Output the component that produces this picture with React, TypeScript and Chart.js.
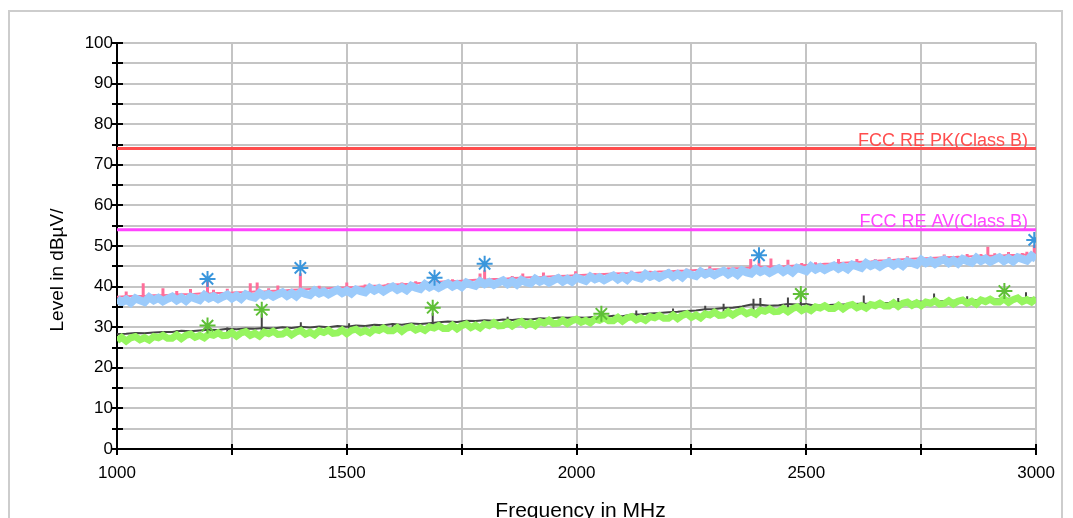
import React, { useEffect, useRef } from "react";
import { Chart, registerables } from "chart.js";

Chart.register(...registerables);

const FONT = "'Liberation Sans', Arial, Helvetica, sans-serif";

const X_TITLE = "Frequency in MHz";
const Y_TITLE = "Level in dBµV/";
const PK_LIMIT_LABEL = "FCC RE PK(Class B)";
const AV_LIMIT_LABEL = "FCC RE AV(Class B)";
const PK_LIMIT = 74;
const AV_LIMIT = 54;
const LIMIT_FREQ = [1000, 3000];

// frequencies of the two wide bands (10 MHz steps)
const BAND_FREQ = [
  1000, 1010, 1020, 1030, 1040, 1050, 1060, 1070, 1080, 1090,
  1100, 1110, 1120, 1130, 1140, 1150, 1160, 1170, 1180, 1190,
  1200, 1210, 1220, 1230, 1240, 1250, 1260, 1270, 1280, 1290,
  1300, 1310, 1320, 1330, 1340, 1350, 1360, 1370, 1380, 1390,
  1400, 1410, 1420, 1430, 1440, 1450, 1460, 1470, 1480, 1490,
  1500, 1510, 1520, 1530, 1540, 1550, 1560, 1570, 1580, 1590,
  1600, 1610, 1620, 1630, 1640, 1650, 1660, 1670, 1680, 1690,
  1700, 1710, 1720, 1730, 1740, 1750, 1760, 1770, 1780, 1790,
  1800, 1810, 1820, 1830, 1840, 1850, 1860, 1870, 1880, 1890,
  1900, 1910, 1920, 1930, 1940, 1950, 1960, 1970, 1980, 1990,
  2000, 2010, 2020, 2030, 2040, 2050, 2060, 2070, 2080, 2090,
  2100, 2110, 2120, 2130, 2140, 2150, 2160, 2170, 2180, 2190,
  2200, 2210, 2220, 2230, 2240, 2250, 2260, 2270, 2280, 2290,
  2300, 2310, 2320, 2330, 2340, 2350, 2360, 2370, 2380, 2390,
  2400, 2410, 2420, 2430, 2440, 2450, 2460, 2470, 2480, 2490,
  2500, 2510, 2520, 2530, 2540, 2550, 2560, 2570, 2580, 2590,
  2600, 2610, 2620, 2630, 2640, 2650, 2660, 2670, 2680, 2690,
  2700, 2710, 2720, 2730, 2740, 2750, 2760, 2770, 2780, 2790,
  2800, 2810, 2820, 2830, 2840, 2850, 2860, 2870, 2880, 2890,
  2900, 2910, 2920, 2930, 2940, 2950, 2960, 2970, 2980, 2990,
  3000,
];

// light blue band
const PK_SMOOTH = [
  37.0, 36.1, 36.8, 36.0, 37.1, 36.6, 36.2, 37.4, 36.6, 37.2,
  36.4, 37.0, 37.5, 36.6, 37.3, 36.5, 37.5, 37.1, 36.7, 37.9,
  37.1, 37.6, 36.9, 37.5, 38.0, 37.1, 37.8, 37.0, 38.1, 37.6,
  37.3, 38.4, 37.7, 38.2, 37.5, 38.1, 38.6, 37.7, 38.4, 37.6,
  38.7, 38.2, 37.9, 39.0, 38.3, 38.8, 38.1, 38.7, 39.2, 38.4,
  39.0, 38.3, 39.3, 38.9, 38.6, 39.7, 39.0, 39.6, 38.8, 39.5,
  40.0, 39.2, 39.8, 39.1, 40.2, 39.7, 39.4, 40.6, 39.8, 40.4,
  39.7, 40.3, 40.8, 40.0, 40.6, 39.9, 41.0, 40.5, 40.2, 41.3,
  40.6, 41.1, 40.4, 41.0, 41.5, 40.6, 41.3, 40.5, 41.6, 41.1,
  40.8, 41.9, 41.2, 41.7, 41.0, 41.6, 42.1, 41.2, 41.9, 41.2,
  42.2, 41.8, 41.4, 42.5, 41.8, 42.3, 41.6, 42.2, 42.7, 41.8,
  42.5, 41.7, 42.8, 42.3, 42.0, 43.1, 42.4, 42.9, 42.2, 42.8,
  43.3, 42.4, 43.1, 42.3, 43.4, 42.9, 42.6, 43.7, 43.0, 43.5,
  42.8, 43.4, 43.9, 43.0, 43.7, 42.9, 44.0, 43.5, 43.2, 44.3,
  43.6, 44.1, 43.4, 44.0, 44.5, 43.6, 44.3, 43.5, 44.6, 44.2,
  43.8, 45.0, 44.2, 44.8, 44.1, 44.7, 45.2, 44.4, 45.0, 44.3,
  45.4, 45.0, 44.6, 45.8, 45.1, 45.6, 44.9, 45.6, 46.0, 45.2,
  45.9, 45.1, 46.2, 45.8, 45.4, 46.6, 45.8, 46.4, 45.6, 46.3,
  46.7, 45.8, 46.5, 45.7, 46.8, 46.3, 45.9, 47.1, 46.3, 46.9,
  46.1, 46.7, 47.2, 46.3, 47.0, 46.2, 47.2, 46.8, 46.4, 47.6,
  46.8,
];

// light green band
const AV_SMOOTH = [
  26.7, 27.5, 26.6, 27.4, 27.7, 26.9, 27.4, 26.8, 27.7, 27.4,
  28.0, 27.3, 27.3, 28.1, 27.2, 28.0, 28.3, 27.5, 28.0, 27.4,
  28.3, 28.0, 28.6, 27.9, 28.0, 28.7, 27.8, 28.6, 28.9, 28.0,
  28.5, 27.8, 28.8, 28.4, 29.0, 28.2, 28.3, 29.0, 28.1, 28.8,
  29.2, 28.3, 28.8, 28.1, 29.1, 28.7, 29.3, 28.5, 28.6, 29.3,
  28.4, 29.2, 29.5, 28.7, 29.2, 28.6, 29.5, 29.2, 29.8, 29.1,
  29.1, 29.9, 29.0, 29.8, 30.1, 29.3, 29.8, 29.2, 30.1, 29.8,
  30.4, 29.7, 29.7, 30.5, 29.6, 30.4, 30.8, 29.9, 30.5, 29.8,
  30.8, 30.4, 31.1, 30.3, 30.4, 31.1, 30.3, 31.0, 31.4, 30.5,
  31.1, 30.4, 31.4, 31.0, 31.7, 30.9, 31.0, 31.7, 30.9, 31.6,
  32.0, 31.2, 31.7, 31.1, 32.0, 31.7, 32.3, 31.6, 31.6, 32.4,
  31.5, 32.3, 32.6, 31.8, 32.3, 31.7, 32.6, 32.3, 32.9, 32.2,
  32.2, 33.0, 32.1, 32.9, 33.3, 32.4, 33.0, 32.3, 33.3, 33.0,
  33.7, 32.9, 33.0, 33.8, 33.0, 33.7, 34.1, 33.3, 33.8, 33.2,
  34.2, 33.9, 34.5, 33.8, 33.9, 34.6, 33.8, 34.6, 35.0, 34.1,
  34.7, 34.1, 35.0, 34.7, 35.3, 34.6, 34.6, 35.4, 34.5, 35.3,
  35.6, 34.8, 35.3, 34.7, 35.6, 35.3, 35.9, 35.2, 35.2, 36.0,
  35.1, 35.9, 36.2, 35.4, 36.0, 35.3, 36.2, 35.9, 36.5, 35.7,
  35.8, 36.5, 35.7, 36.4, 36.7, 35.9, 36.4, 35.7, 36.7, 36.3,
  36.9, 36.2, 36.2, 37.0, 36.1, 36.8, 37.2, 36.3, 36.8, 36.2,
  37.1,
];

// frequencies of the thin traces (20 MHz steps)
const TRACE_FREQ = [
  1000, 1020, 1040, 1060, 1080, 1100, 1120, 1140, 1160, 1180,
  1200, 1220, 1240, 1260, 1280, 1300, 1320, 1340, 1360, 1380,
  1400, 1420, 1440, 1460, 1480, 1500, 1520, 1540, 1560, 1580,
  1600, 1620, 1640, 1660, 1680, 1700, 1720, 1740, 1760, 1780,
  1800, 1820, 1840, 1860, 1880, 1900, 1920, 1940, 1960, 1980,
  2000, 2020, 2040, 2060, 2080, 2100, 2120, 2140, 2160, 2180,
  2200, 2220, 2240, 2260, 2280, 2300, 2320, 2340, 2360, 2380,
  2400, 2420, 2440, 2460, 2480, 2500, 2520, 2540, 2560, 2580,
  2600, 2620, 2640, 2660, 2680, 2700, 2720, 2740, 2760, 2780,
  2800, 2820, 2840, 2860, 2880, 2900, 2920, 2940, 2960, 2980,
  3000,
];

// pink peak trace
const PK_TRACE = [
  37.5, 37.6, 37.7, 37.7, 37.9, 37.9, 38.0, 38.1, 38.1, 38.3,
  38.3, 38.4, 38.4, 38.6, 38.6, 38.8, 38.8, 39.0, 39.0, 39.2,
  39.3, 39.4, 39.4, 39.6, 39.7, 39.8, 39.9, 40.1, 40.2, 40.3,
  40.5, 40.6, 40.7, 40.9, 41.0, 41.2, 41.3, 41.4, 41.5, 41.7,
  41.7, 41.9, 41.9, 42.1, 42.2, 42.3, 42.3, 42.5, 42.6, 42.7,
  42.8, 42.9, 43.0, 43.1, 43.2, 43.3, 43.3, 43.5, 43.5, 43.7,
  43.7, 43.9, 43.9, 44.1, 44.1, 44.3, 44.3, 44.5, 44.5, 44.7,
  44.8, 44.9, 44.9, 45.1, 45.2, 45.3, 45.4, 45.6, 45.7, 45.9,
  46.0, 46.1, 46.2, 46.4, 46.5, 46.7, 46.8, 46.9, 47.0, 47.1,
  47.2, 47.3, 47.3, 47.5, 47.5, 47.6, 47.6, 47.8, 47.8, 47.9,
  48.0,
];

// dark grey average trace
const AV_TRACE = [
  28.3, 28.4, 28.6, 28.5, 28.7, 28.8, 28.8, 29.1, 29.0, 29.2,
  29.4, 29.3, 29.6, 29.5, 29.7, 29.6, 29.8, 29.7, 30.0, 29.8,
  30.1, 29.9, 30.2, 30.0, 30.3, 30.1, 30.4, 30.3, 30.6, 30.5,
  30.8, 30.6, 30.9, 30.8, 31.0, 31.2, 31.4, 31.3, 31.6, 31.5,
  31.7, 31.6, 31.9, 31.8, 32.0, 31.9, 32.2, 32.1, 32.4, 32.3,
  32.4, 32.3, 32.6, 32.5, 32.8, 32.7, 33.1, 33.2, 33.4, 33.5,
  33.7, 33.8, 34.0, 34.1, 34.4, 34.5, 34.7, 34.8, 35.1, 35.6,
  35.5, 35.3, 35.4, 35.7, 35.6, 35.7, 35.3, 35.4, 35.5, 35.6,
  35.7, 35.8, 35.8, 35.9, 36.0, 36.2, 36.1, 36.3, 36.2, 36.4,
  36.4, 36.5, 36.5, 36.7, 36.6, 36.8, 36.8, 37.0, 36.9, 37.1,
  37.0,
];

// narrow spikes of the pink peak trace
const PK_SPIKE_FREQ = [
  1020, 1057, 1100, 1130, 1160, 1197, 1210, 1240, 1290, 1305,
  1330, 1350, 1399, 1440, 1500, 1540, 1590, 1620, 1650, 1691,
  1730, 1790, 1800, 1860, 1883, 1928, 1960, 1998, 2040, 2120,
  2160, 2200, 2240, 2290, 2330, 2379, 2397, 2423, 2460, 2490,
  2520, 2570, 2610, 2650, 2680, 2720, 2750, 2800, 2830, 2850,
  2880, 2895, 2910, 2940, 2970, 2980, 2996,
];
const PK_SPIKE_TOP = [
  38.8, 40.8, 39.6, 38.9, 39.4, 41.3, 39.2, 39.5, 40.8, 41.0,
  39.6, 40.3, 43.3, 40.2, 41.0, 40.5, 40.8, 41.0, 41.3, 41.0,
  41.8, 43.2, 44.0, 42.6, 43.2, 43.5, 43.0, 43.8, 43.3, 43.9,
  43.9, 44.3, 44.4, 45.0, 44.7, 46.8, 46.6, 46.9, 46.6, 45.8,
  46.0, 46.8, 46.8, 46.8, 47.2, 47.5, 47.4, 47.9, 47.6, 48.0,
  48.0, 49.8, 48.2, 48.5, 48.3, 48.6, 50.3,
];
const PK_SPIKE_BASE = [
  36.6, 36.7, 36.9, 37.0, 37.1, 37.3, 37.3, 37.5, 37.7, 37.8,
  37.9, 38.0, 38.3, 38.5, 38.8, 39.1, 39.4, 39.6, 39.8, 40.1,
  40.4, 40.7, 40.8, 41.1, 41.2, 41.4, 41.6, 41.8, 42.0, 42.4,
  42.6, 42.8, 43.0, 43.2, 43.4, 43.7, 43.8, 43.9, 44.1, 44.3,
  44.4, 44.8, 45.1, 45.3, 45.5, 45.8, 46.0, 46.2, 46.3, 46.4,
  46.5, 46.6, 46.6, 46.8, 46.9, 46.9, 47.0,
];

// narrow spikes of the grey average trace
const AV_SPIKE_FREQ = [
  1130, 1197, 1240, 1315, 1400, 1505, 1600, 1687, 1850, 2054,
  2130, 2210, 2280, 2320, 2385, 2400, 2460, 2488, 2625, 2700,
  2778, 2850, 2931, 2978,
];
const AV_SPIKE_TOP = [
  29.3, 29.8, 29.9, 33.4, 31.2, 31.0, 31.0, 33.5, 32.6, 32.6,
  34.1, 34.6, 35.3, 35.8, 37.0, 37.2, 37.3, 37.6, 37.8, 37.2,
  38.3, 37.6, 38.0, 38.6,
];
const AV_SPIKE_BASE = [
  27.6, 28.0, 28.2, 28.5, 28.7, 28.9, 29.4, 29.8, 30.7, 31.8,
  32.1, 32.5, 33.0, 33.3, 33.7, 33.9, 34.3, 34.5, 35.2, 35.7,
  36.0, 36.2, 36.5, 36.7,
];

const PK_MARK_FREQ = [1197, 1399, 1691, 1800, 2397, 2996];
const PK_MARK_LEVEL = [41.9, 44.6, 42.2, 45.6, 47.7, 51.5];
const AV_MARK_FREQ = [1197, 1315, 1687, 2054, 2488, 2931];
const AV_MARK_LEVEL = [30.4, 34.3, 34.8, 33.3, 38.2, 38.9];

const COLORS = {
  pkLimit: "#ff4d4d",
  avLimit: "#ff44ff",
  pkTrace: "#ff6e9a",
  pkSmooth: "#9ccbfb",
  avTrace: "#444444",
  avSmooth: "#96f55f",
  pkMark: "#3a96dc",
  avMark: "#5fbf37",
  grid: "#c4c4c4",
};

const pts = (xs: number[], ys: number[]) => xs.map((x, i) => ({ x, y: ys[i] }));

// vertical spike segments, separated by gaps
const spikes = (xs: number[], lo: number[], hi: number[]) => {
  const out: { x: number; y: number | null }[] = [];
  xs.forEach((x, i) => {
    out.push({ x, y: lo[i] }, { x, y: hi[i] }, { x, y: null });
  });
  return out;
};

const decorPlugin = {
  id: "decor",
  afterDraw(chart: any) {
    const { ctx, chartArea: a, scales } = chart;
    const x = scales.x;
    const y = scales.y;
    ctx.save();
    ctx.strokeStyle = "#000";
    ctx.lineWidth = 2;
    y.ticks.forEach((t: any) => {
      const py = Math.round(y.getPixelForValue(t.value));
      ctx.beginPath();
      ctx.moveTo(a.left - 5, py);
      ctx.lineTo(a.left + 6, py);
      ctx.stroke();
    });
    x.ticks.forEach((t: any) => {
      const px = Math.round(x.getPixelForValue(t.value));
      ctx.beginPath();
      ctx.moveTo(px, a.bottom - 5);
      ctx.lineTo(px, a.bottom + 6);
      ctx.stroke();
    });

    ctx.font = `18px ${FONT}`;
    ctx.textAlign = "right";
    ctx.textBaseline = "alphabetic";
    ctx.fillStyle = COLORS.pkLimit;
    ctx.fillText(PK_LIMIT_LABEL, a.right - 8, y.getPixelForValue(PK_LIMIT) - 3);
    ctx.fillStyle = COLORS.avLimit;
    ctx.fillText(AV_LIMIT_LABEL, a.right - 8, y.getPixelForValue(AV_LIMIT) - 3);

    ctx.fillStyle = "#000";
    ctx.textAlign = "center";
    ctx.font = `21px ${FONT}`;
    ctx.fillText(X_TITLE, (a.left + a.right) / 2 + 4, a.bottom + 68);

    ctx.translate(a.left - 59, (a.top + a.bottom) / 2 + 24);
    ctx.rotate(-Math.PI / 2);
    ctx.font = `19px ${FONT}`;
    ctx.textBaseline = "middle";
    ctx.fillText(Y_TITLE, 0, 0);
    ctx.restore();
  },
};

export default function App() {
  const ref = useRef<HTMLCanvasElement | null>(null);

  useEffect(() => {
    if (!ref.current) return;
    const lineBase = { pointRadius: 0, tension: 0, fill: false, showLine: true, spanGaps: false };
    const chart = new Chart(ref.current, {
      type: "line",
      data: {
        datasets: [
          {
            ...lineBase,
            data: pts(PK_MARK_FREQ, PK_MARK_LEVEL),
            showLine: false,
            pointStyle: "star",
            pointRadius: 8,
            pointBorderWidth: 2,
            pointBorderColor: COLORS.pkMark,
            pointBackgroundColor: COLORS.pkMark,
            order: 0,
          },
          {
            ...lineBase,
            data: pts(AV_MARK_FREQ, AV_MARK_LEVEL),
            showLine: false,
            pointStyle: "star",
            pointRadius: 8,
            pointBorderWidth: 2,
            pointBorderColor: COLORS.avMark,
            pointBackgroundColor: COLORS.avMark,
            order: 0,
          },
          {
            ...lineBase,
            data: pts(LIMIT_FREQ, [PK_LIMIT, PK_LIMIT]),
            borderColor: COLORS.pkLimit,
            borderWidth: 3,
            order: 1,
          },
          {
            ...lineBase,
            data: pts(LIMIT_FREQ, [AV_LIMIT, AV_LIMIT]),
            borderColor: COLORS.avLimit,
            borderWidth: 3,
            order: 1,
          },
          {
            ...lineBase,
            data: pts(BAND_FREQ, PK_SMOOTH),
            borderColor: COLORS.pkSmooth,
            borderWidth: 8,
            order: 2,
          },
          {
            ...lineBase,
            data: spikes(PK_SPIKE_FREQ, PK_SPIKE_BASE, PK_SPIKE_TOP),
            borderColor: COLORS.pkTrace,
            borderWidth: 3,
            order: 3,
          },
          {
            ...lineBase,
            data: pts(TRACE_FREQ, PK_TRACE),
            borderColor: COLORS.pkTrace,
            borderWidth: 2,
            order: 3,
          },
          {
            ...lineBase,
            data: pts(BAND_FREQ, AV_SMOOTH),
            borderColor: COLORS.avSmooth,
            borderWidth: 7,
            order: 4,
          },
          {
            ...lineBase,
            data: spikes(AV_SPIKE_FREQ, AV_SPIKE_BASE, AV_SPIKE_TOP),
            borderColor: COLORS.avTrace,
            borderWidth: 2,
            order: 5,
          },
          {
            ...lineBase,
            data: pts(TRACE_FREQ, AV_TRACE),
            borderColor: COLORS.avTrace,
            borderWidth: 2,
            order: 5,
          },
        ] as any,
      },
      options: {
        animation: false,
        responsive: false,
        devicePixelRatio: 1,
        layout: { padding: { top: 31, right: 26, left: 0, bottom: 0 } },
        plugins: { legend: { display: false }, tooltip: { enabled: false } },
        scales: {
          x: {
            type: "linear",
            min: 1000,
            max: 3000,
            ticks: {
              stepSize: 250,
              autoSkip: false,
              maxRotation: 0,
              padding: 14,
              color: "#000",
              font: { size: 17, family: FONT },
              callback: (v: any) => (Number(v) % 500 === 0 ? String(v) : ""),
            },
            grid: { color: COLORS.grid, lineWidth: 2, drawTicks: false },
            border: { color: "#000", width: 2 },
            afterFit: (s: any) => {
              s.height = 83;
            },
          },
          y: {
            type: "linear",
            min: 0,
            max: 100,
            ticks: {
              stepSize: 5,
              autoSkip: false,
              padding: 4,
              color: "#000",
              font: { size: 17, family: FONT },
              callback: (v: any) => (Number(v) % 10 === 0 ? String(v) : ""),
            },
            grid: { color: COLORS.grid, lineWidth: 2, drawTicks: false },
            border: { color: "#000", width: 2 },
            afterFit: (s: any) => {
              s.width = 107;
            },
          },
        },
      } as any,
      plugins: [decorPlugin],
    });
    return () => chart.destroy();
  }, []);

  return (
    <div
      style={{
        position: "absolute",
        left: 8,
        top: 10,
        width: 1051,
        height: 520,
        border: "2px solid #cdcdcd",
        background: "#fff",
        overflow: "hidden",
      }}
    >
      <canvas ref={ref} width={1059} height={520} style={{ display: "block" }} />
    </div>
  );
}
